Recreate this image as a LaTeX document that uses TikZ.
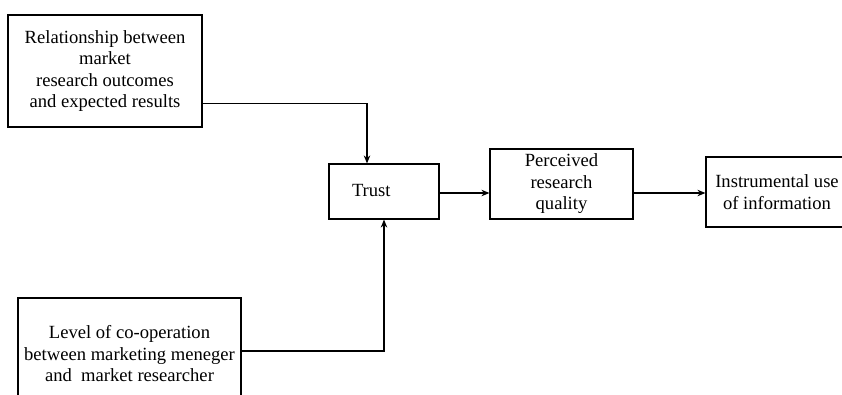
\documentclass[tikz,border=0pt]{standalone}
\usepackage{fontspec}
\setmainfont{Liberation Serif}
\usetikzlibrary{arrows.meta,calc}
\tikzset{
  box/.style={draw=black, line width=1.2pt, rectangle, inner sep=0pt, align=center,
    font=\fontsize{18.6}{21.5}\selectfont},
  conn/.style={draw=black, line width=1.1pt},
  arr/.style={conn, -{Stealth[length=8pt,width=6.5pt]}}
}
\begin{document}
\begin{tikzpicture}[x=1pt,y=-1pt]
\useasboundingbox (0,0) rectangle (842,394);
\node[box, minimum width=194pt, minimum height=112pt] (rel) at (105,71)
  {Relationship between\\market\\research outcomes\\and expected results};
\node[box, text width=64pt, inner xsep=23pt, align=left, minimum height=55pt] (trust) at (384,191.5)
  {\raisebox{3pt}{Trust}};
\node[box, minimum width=143pt, minimum height=70pt] (perc) at (561.5,184)
  {\raisebox{-3pt}{\parbox{143pt}{\centering Perceived\\research\\quality}}};
\node[box, minimum width=142pt, minimum height=70pt] (inst) at (777,192)
  {Instrumental use\\of information};
\node[box, minimum width=223pt, minimum height=112pt] (coop) at (129.5,354)
  {Level of co-operation\\between marketing meneger\\and~ market researcher};
\draw[arr] ([yshift=24pt]rel.south east) -| ([xshift=-17pt]trust.north);
\draw[arr] ([yshift=-1.5pt]trust.east) -- ([yshift=-1.5pt]trust.east -| perc.west);
\draw[arr] ([yshift=-1.5pt]trust.east -| perc.east) -- ([yshift=-1.5pt]trust.east -| inst.west);
\draw[arr] ([yshift=3pt]coop.east) -| (trust.south);
\end{tikzpicture}
\end{document}
